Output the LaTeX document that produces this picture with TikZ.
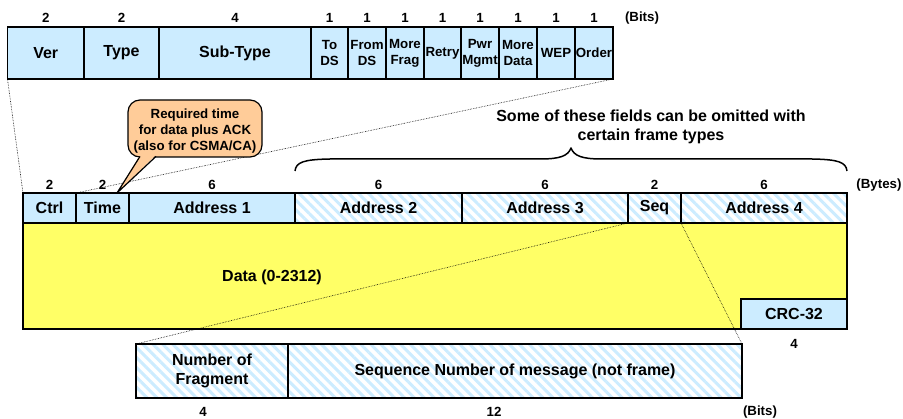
\documentclass[tikz,border=0pt]{standalone}
\usepackage{fontspec}
\setmainfont{Liberation Sans}
\usetikzlibrary{patterns.meta,decorations.pathreplacing,calc}
\definecolor{lblue}{HTML}{CCECFF}
\definecolor{dyellow}{HTML}{FFFF66}
\definecolor{peach}{HTML}{FFCC99}
\newcommand\bigtxt{\fontsize{16}{19}\selectfont\bfseries}
\newcommand\smalltxt{\fontsize{13.3}{16}\selectfont\bfseries}
\newcommand\cellat[7]{\node[#6, minimum width={#3-#2}, minimum height={#5-#4}] (#1) at ({(#2+#3)/2},{(#4+#5)/2}) {#7};}
\tikzset{
  cellbox/.style={draw=black, line width=1.7pt, inner sep=0pt, outer sep=0pt, align=center, font=\bigtxt},
  solidcell/.style={cellbox, fill=lblue},
  smallcell/.style={solidcell, font=\smalltxt},
  hatchcell/.style={cellbox, preaction={fill=white}, pattern={Lines[angle=-45,distance=7pt,line width=3pt]}, pattern color=lblue},
  datacell/.style={cellbox, fill=dyellow},
  numlbl/.style={font=\smalltxt, inner sep=0pt},
  biglbl/.style={font=\bigtxt, inner sep=0pt, align=center},
  zoomline/.style={densely dotted, line width=0.6pt},
  calloutbox/.style={draw=black, line width=1.2pt, fill=peach, rounded corners=12pt, inner sep=0pt, outer sep=0pt},
  bracestyle/.style={line width=1.5pt, line join=round},
}
\begin{document}
\begin{tikzpicture}[x=1pt,y=-1pt]
\useasboundingbox (0,0) rectangle (903,419);
% ---- top row (bits of Ctrl)
\cellat{ver}{7.5}{84}{27}{79}{solidcell}{Ver}
\cellat{type}{84}{159}{27}{79}{solidcell}{Type}
\cellat{subtype}{159}{311}{27}{79}{solidcell}{Sub-Type}
\cellat{tods}{311}{348}{27}{79}{smallcell}{To\\DS}
\cellat{fromds}{348}{386}{27}{79}{smallcell}{From\\DS}
\cellat{morefrag}{386}{424}{27}{79}{smallcell}{More\\Frag}
\cellat{retry}{424}{461}{27}{79}{smallcell}{Retry}
\cellat{pwr}{461}{499}{27}{79}{smallcell}{Pwr\\Mgmt}
\cellat{moredata}{499}{537}{27}{79}{smallcell}{More\\Data}
\cellat{wep}{537}{575}{27}{79}{smallcell}{WEP}
\cellat{order}{575}{613}{27}{79}{smallcell}{Order}
\foreach \c/\v in {ver/2,type/2,subtype/4,tods/1,fromds/1,morefrag/1,retry/1,pwr/1,moredata/1,wep/1,order/1}
  \node[numlbl] (n-\c) at ([yshift=9pt]\c.north) {\v};
\node[numlbl] (bitsunit) at (642,18) {(Bits)};
% ---- frame
\cellat{data}{23}{847}{223}{329}{datacell}{}
\node[biglbl] (datalbl) at (272,277) {Data (0-2312)};
\cellat{crc}{741}{847}{299}{329}{solidcell}{CRC-32}
\node[numlbl] (n-crc) at ([yshift=-15pt]crc.south) {4};
\cellat{ctrl}{23}{76}{193}{223}{solidcell}{Ctrl}
\cellat{time}{76}{129}{193}{223}{solidcell}{Time}
\cellat{addr1}{129}{295}{193}{223}{solidcell}{Address 1}
\cellat{addr2}{295}{462}{193}{223}{hatchcell}{Address 2}
\cellat{addr3}{462}{628}{193}{223}{hatchcell}{Address 3}
\cellat{seq}{628}{681}{193}{223}{hatchcell}{Seq}
\cellat{addr4}{681}{847}{193}{223}{hatchcell}{Address 4}
\foreach \c/\v in {ctrl/2,time/2,addr1/6,addr2/6,addr3/6,seq/2,addr4/6}
  \node[numlbl] (n-\c) at ([yshift=8pt]\c.north) {\v};
\node[numlbl] (bytesunit) at (879,185) {(Bytes)};
% ---- sequence field detail
\cellat{frag}{136}{288}{344}{398}{hatchcell}{Number of\\Fragment}
\cellat{seqnum}{288}{742}{344}{398}{hatchcell}{Sequence Number of message (not frame)}
\node[numlbl] (n-frag) at (203,412) {4};
\node[numlbl] (n-seqnum) at (494,412) {12};
\node[numlbl] (bitsunit2) at (760,412) {(Bits)};
% ---- zoom lines
\draw[zoomline] (ver.south west) -- (ctrl.north west);
\draw[zoomline] (order.south east) -- (ctrl.north east);
\draw[zoomline] (seq.south west) -- (frag.north west);
\draw[zoomline] (seq.south east) -- (seqnum.north east);
% ---- brace
\coordinate (bl) at (295,171);
\coordinate (btip) at (571,148);
\coordinate (br) at (847,171);
\draw[bracestyle] (bl) .. controls (296,162) and (304,159.5) .. (330,159)
  -- (540,159) .. controls (560,159) and (568,156) .. (btip)
  .. controls (574,156) and (582,159) .. (602,159)
  -- (812,159) .. controls (838,159.5) and (846,162) .. (br);
\node[biglbl] (bracelbl) at (651,126.5) {Some of these fields can be omitted with\\certain frame types};
% ---- callout
\node[calloutbox, minimum width=134, minimum height=57] (note) at (195,128.5) {};
\coordinate (tip) at (117,193);
\fill[peach] (140,155) -- (tip) -- (156,155) -- cycle;
\draw[line width=1.2pt, line join=round] (140,156.4) -- (tip) -- (156,156.4);
\node[numlbl, align=center] (notetxt) at (195,131) {Required time\\for data plus ACK\\(also for CSMA/CA)};
\end{tikzpicture}
\end{document}
